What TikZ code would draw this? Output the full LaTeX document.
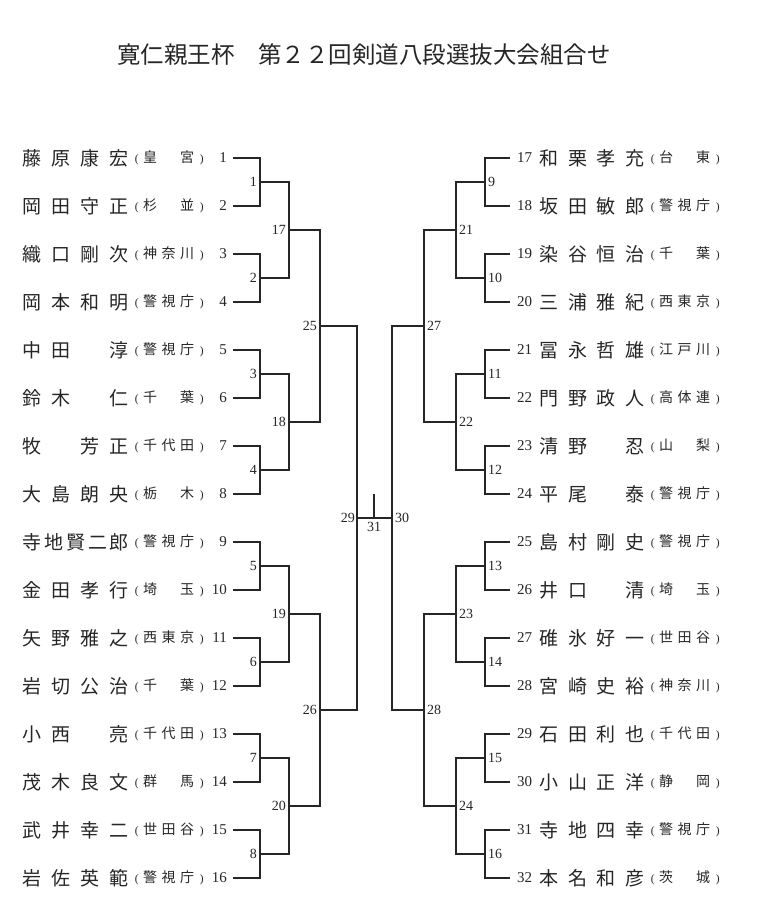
\documentclass[tikz,border=0pt]{standalone}
\usepackage{fontspec}
\newfontfamily\jp{Noto Sans CJK JP}
\newfontfamily\numf{Liberation Serif}
\newcommand\qa[1]{\makebox[29pt]{#1}}
\newcommand\qb[1]{\makebox[21.75pt]{#1}}
\newcommand\qc[1]{\makebox[18.5pt]{#1}}
\newcommand\parf{\numf\fontsize{11.5}{12}\selectfont}
\newcommand\aff[3]{\makebox[8.5pt]{\parf(}\qc{#1}\qc{#2}\qc{#3}\makebox[10.5pt]{\parf)}}
\newcommand\PL[3]{%
  \pgfmathsetmacro\yy{158+48*(#1-1)}%
  \node[nm] (name#1) at (76,\yy) {#2};
  \node[af,anchor=west] (aff#1) at (132.25,\yy) {#3};
  \node[pn,anchor=east] (num#1) at (227,\yy) {#1};
  \coordinate (s#1) at (233,\yy);}
\newcommand\PR[3]{%
  \pgfmathsetmacro\yy{158+48*(#1-17)}%
  \node[nm] (name#1) at (592,\yy) {#2};
  \node[af,anchor=west] (aff#1) at (648.25,\yy) {#3};
  \node[pn,anchor=west] (num#1) at (517,\yy) {#1};
  \coordinate (s#1) at (510,\yy);}
\begin{document}
\begin{tikzpicture}[x=1pt,y=-1pt,
  line/.style={line width=1.3pt, black!85},
  nm/.style={font=\jp\fontsize{19}{20}\selectfont, inner sep=0pt, anchor=center, text=black!85},
  af/.style={font=\jp\fontsize{14}{16}\selectfont, inner sep=0pt, text=black!85},
  pn/.style={font=\numf\fontsize{15}{16}\selectfont, inner sep=0pt, text=black!85},
  rl/.style={font=\numf\fontsize{14}{15}\selectfont, inner sep=0pt, text=black!85}]
\useasboundingbox[fill=white] (0,0) rectangle (760,918);
\node[font=\jp\fontsize{23.5}{26}\selectfont, inner sep=0pt, text=black!85] (title) at (364,55) {寛仁親王杯　第２２回剣道八段選抜大会組合せ};
% left players
\PL{1}{\qa{藤}\qa{原}\qa{康}\qa{宏}}{\aff{皇}{}{宮}}
\PL{2}{\qa{岡}\qa{田}\qa{守}\qa{正}}{\aff{杉}{}{並}}
\PL{3}{\qa{織}\qa{口}\qa{剛}\qa{次}}{\aff{神}{奈}{川}}
\PL{4}{\qa{岡}\qa{本}\qa{和}\qa{明}}{\aff{警}{視}{庁}}
\PL{5}{\qa{中}\qa{田}\qa{}\qa{淳}}{\aff{警}{視}{庁}}
\PL{6}{\qa{鈴}\qa{木}\qa{}\qa{仁}}{\aff{千}{}{葉}}
\PL{7}{\qa{牧}\qa{}\qa{芳}\qa{正}}{\aff{千}{代}{田}}
\PL{8}{\qa{大}\qa{島}\qa{朗}\qa{央}}{\aff{栃}{}{木}}
\PL{9}{\qb{寺}\qb{地}\qb{賢}\qb{二}\qb{郎}}{\aff{警}{視}{庁}}
\PL{10}{\qa{金}\qa{田}\qa{孝}\qa{行}}{\aff{埼}{}{玉}}
\PL{11}{\qa{矢}\qa{野}\qa{雅}\qa{之}}{\aff{西}{東}{京}}
\PL{12}{\qa{岩}\qa{切}\qa{公}\qa{治}}{\aff{千}{}{葉}}
\PL{13}{\qa{小}\qa{西}\qa{}\qa{亮}}{\aff{千}{代}{田}}
\PL{14}{\qa{茂}\qa{木}\qa{良}\qa{文}}{\aff{群}{}{馬}}
\PL{15}{\qa{武}\qa{井}\qa{幸}\qa{二}}{\aff{世}{田}{谷}}
\PL{16}{\qa{岩}\qa{佐}\qa{英}\qa{範}}{\aff{警}{視}{庁}}
% right players
\PR{17}{\qa{和}\qa{栗}\qa{孝}\qa{充}}{\aff{台}{}{東}}
\PR{18}{\qa{坂}\qa{田}\qa{敏}\qa{郎}}{\aff{警}{視}{庁}}
\PR{19}{\qa{染}\qa{谷}\qa{恒}\qa{治}}{\aff{千}{}{葉}}
\PR{20}{\qa{三}\qa{浦}\qa{雅}\qa{紀}}{\aff{西}{東}{京}}
\PR{21}{\qa{冨}\qa{永}\qa{哲}\qa{雄}}{\aff{江}{戸}{川}}
\PR{22}{\qa{門}\qa{野}\qa{政}\qa{人}}{\aff{高}{体}{連}}
\PR{23}{\qa{清}\qa{野}\qa{}\qa{忍}}{\aff{山}{}{梨}}
\PR{24}{\qa{平}\qa{尾}\qa{}\qa{泰}}{\aff{警}{視}{庁}}
\PR{25}{\qa{島}\qa{村}\qa{剛}\qa{史}}{\aff{警}{視}{庁}}
\PR{26}{\qa{井}\qa{口}\qa{}\qa{清}}{\aff{埼}{}{玉}}
\PR{27}{\qa{碓}\qa{氷}\qa{好}\qa{一}}{\aff{世}{田}{谷}}
\PR{28}{\qa{宮}\qa{崎}\qa{史}\qa{裕}}{\aff{神}{奈}{川}}
\PR{29}{\qa{石}\qa{田}\qa{利}\qa{也}}{\aff{千}{代}{田}}
\PR{30}{\qa{小}\qa{山}\qa{正}\qa{洋}}{\aff{静}{}{岡}}
\PR{31}{\qa{寺}\qa{地}\qa{四}\qa{幸}}{\aff{警}{視}{庁}}
\PR{32}{\qa{本}\qa{名}\qa{和}\qa{彦}}{\aff{茨}{}{城}}
% round 1 left
\foreach \m in {1,...,8}{
  \pgfmathtruncatemacro\a{2*\m-1}\pgfmathtruncatemacro\b{2*\m}
  \coordinate (m\m) at (260,{182+96*(\m-1)});
  \draw[line] (s\a) -| (m\m);
  \draw[line] (s\b) -| (m\m);
  \node[rl,anchor=east] (lab\m) at ([xshift=-3pt]m\m) {\m};
}
% round 1 right
\foreach \m in {9,...,16}{
  \pgfmathtruncatemacro\a{2*(\m-9)+17}\pgfmathtruncatemacro\b{\a+1}
  \coordinate (m\m) at (485,{182+96*(\m-9)});
  \draw[line] (s\a) -| (m\m);
  \draw[line] (s\b) -| (m\m);
  \node[rl,anchor=west] (lab\m) at ([xshift=3pt]m\m) {\m};
}
% round 2 left
\foreach \m in {17,...,20}{
  \pgfmathtruncatemacro\a{2*(\m-17)+1}\pgfmathtruncatemacro\b{\a+1}
  \coordinate (m\m) at (289,{230+192*(\m-17)});
  \draw[line] (m\a) -| (m\m);
  \draw[line] (m\b) -| (m\m);
  \node[rl,anchor=east] (lab\m) at ([xshift=-3pt]m\m) {\m};
}
% round 2 right
\foreach \m in {21,...,24}{
  \pgfmathtruncatemacro\a{2*(\m-21)+9}\pgfmathtruncatemacro\b{\a+1}
  \coordinate (m\m) at (456,{230+192*(\m-21)});
  \draw[line] (m\a) -| (m\m);
  \draw[line] (m\b) -| (m\m);
  \node[rl,anchor=west] (lab\m) at ([xshift=3pt]m\m) {\m};
}
% round 3 left
\foreach \m in {25,26}{
  \pgfmathtruncatemacro\a{2*(\m-25)+17}\pgfmathtruncatemacro\b{\a+1}
  \coordinate (m\m) at (320,{326+384*(\m-25)});
  \draw[line] (m\a) -| (m\m);
  \draw[line] (m\b) -| (m\m);
  \node[rl,anchor=east] (lab\m) at ([xshift=-3pt]m\m) {\m};
}
% round 3 right
\foreach \m in {27,28}{
  \pgfmathtruncatemacro\a{2*(\m-27)+21}\pgfmathtruncatemacro\b{\a+1}
  \coordinate (m\m) at (424,{326+384*(\m-27)});
  \draw[line] (m\a) -| (m\m);
  \draw[line] (m\b) -| (m\m);
  \node[rl,anchor=west] (lab\m) at ([xshift=3pt]m\m) {\m};
}
% semifinals and final
\coordinate (m29) at (357,518);
\coordinate (m30) at (392,518);
\coordinate (m31) at (374,518);
\coordinate (t31) at (374,494);
\draw[line] (m25) -| (m29);
\draw[line] (m26) -| (m29);
\draw[line] (m27) -| (m30);
\draw[line] (m28) -| (m30);
\draw[line] (m29) -- (m30);
\draw[line] (m31) -- (t31);
\node[rl,anchor=east] (lab29) at ([xshift=-2pt]m29) {29};
\node[rl,anchor=west] (lab30) at ([xshift=3pt]m30) {30};
\node[rl,anchor=north] (lab31) at ([yshift=-4pt]m31) {31};
\end{tikzpicture}
\end{document}
